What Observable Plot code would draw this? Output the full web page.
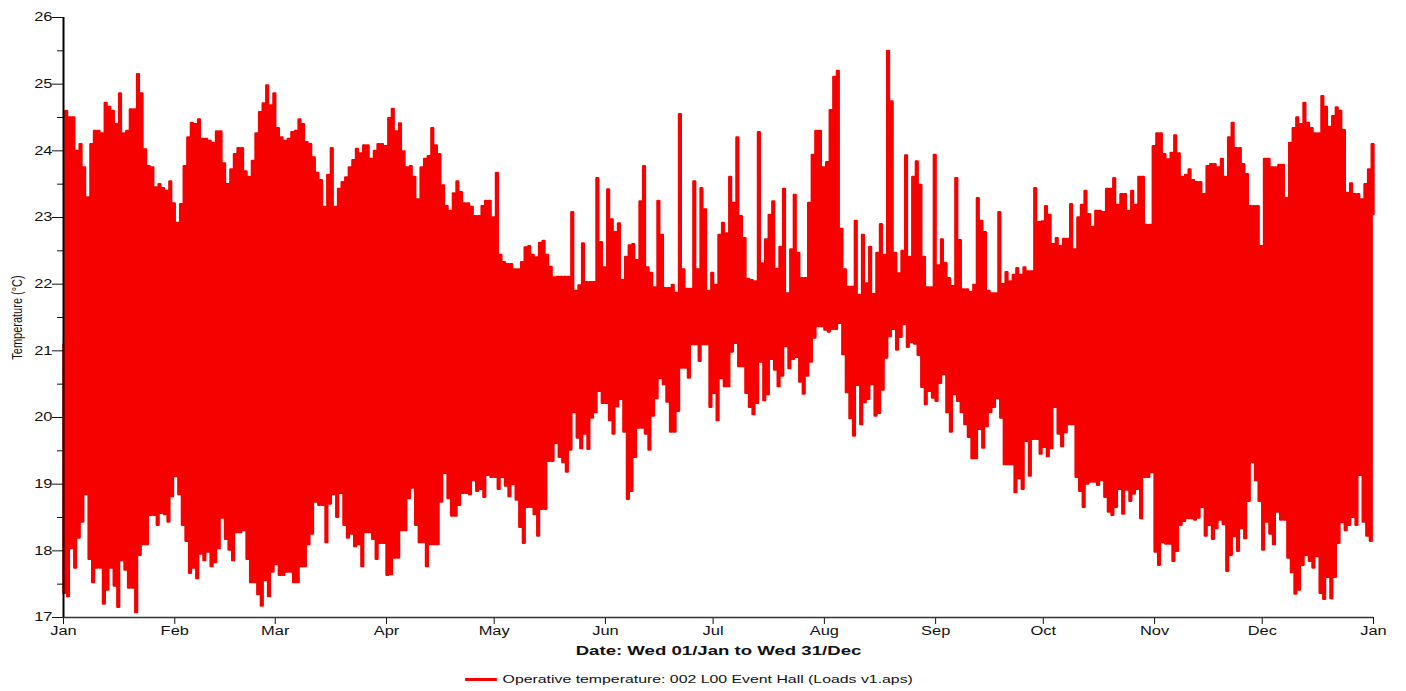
<!DOCTYPE html>
<html>
<head>
<meta charset="utf-8">
<script src="https://cdn.jsdelivr.net/npm/d3@7"></script>
<script src="https://cdn.jsdelivr.net/npm/@observablehq/plot@0.6"></script>
<style>
  html, body { margin: 0; padding: 0; background: #fff; }
  #wrap { position: relative; width: 1406px; height: 691px; font-family: 'Liberation Sans', Arial, sans-serif; }
  #legend { position: absolute; left: 689px; top: 679px; transform: translate(-50%, -50%) scaleX(1.44);
            display: flex; align-items: center; white-space: nowrap; font-size: 11px; color: #111; }
  #legend .sw { display: inline-block; width: 22px; height: 3px; background: #f70000; margin-right: 4px; }
</style>
</head>
<body>
<div id="wrap"><div id="chart"></div><div id="legend"><span class="sw"></span><span id="legtext"></span></div></div>
<script>
// ---- Data ----
const year = 2014;
const monthLabels = ["Jan","Feb","Mar","Apr","May","Jun","Jul","Aug","Sep","Oct","Nov","Dec"];
const yTicks = [17, 18, 19, 20, 21, 22, 23, 24, 25, 26];
const yMinorTicks = [17.5, 18.5, 19.5, 20.5, 21.5, 22.5, 23.5, 24.5, 25.5];
const yLabel = "Temperature (°C)";
const xTitle = "Date: Wed 01/Jan to Wed 31/Dec";
const seriesName = "Operative temperature: 002 L00 Event Hall (Loads v1.aps)";
const startTemp = 21.1;   // value at 00:00 on 01/Jan
const endTemp = 23.05;    // value at the end of 31/Dec

// daily maximum operative temperature (°C), day 0 = 01/Jan
const dailyHigh = [
  24.6, 24.5, 24.5, 24.0, 24.1, 23.75, 23.3, 24.1, 24.3, 24.3,
  24.26, 24.72, 24.66, 24.6, 24.4, 24.86, 24.26, 24.3, 24.62, 24.62,
  25.15, 24.86, 24.02, 23.77, 23.75, 23.45, 23.5, 23.44, 23.4, 23.54,
  23.21, 22.92, 23.2, 23.77, 24.2, 24.42, 24.4, 24.47, 24.18, 24.18,
  24.15, 24.12, 24.29, 24.29, 23.81, 23.5, 23.72, 23.95, 24.04, 24.04,
  23.69, 23.61, 23.85, 24.26, 24.58, 24.71, 24.98, 24.68, 24.86, 24.34,
  24.2, 24.15, 24.18, 24.28, 24.3, 24.47, 24.4, 24.13, 24.1, 23.9,
  23.67, 23.56, 23.16, 23.64, 24.04, 23.16, 23.43, 23.53, 23.6, 23.75,
  23.86, 24.03, 23.96, 24.08, 24.08, 23.88, 24.0, 24.1, 24.1, 24.07,
  24.49, 24.63, 24.29, 24.41, 23.99, 23.75, 23.77, 23.61, 23.27, 23.75,
  23.88, 23.92, 24.34, 24.08, 23.95, 23.48, 23.17, 23.1, 23.36, 23.54,
  23.38, 23.21, 23.21, 23.16, 23.02, 23.02, 23.17, 23.25, 23.25, 23.0,
  23.67, 22.44, 22.33, 22.3, 22.3, 22.22, 22.22, 22.33, 22.55, 22.57,
  22.44, 22.4, 22.62, 22.65, 22.44, 22.26, 22.1, 22.11, 22.11, 22.11,
  22.11, 23.08, 21.9, 21.98, 22.61, 22.03, 22.03, 22.03, 23.59, 22.63,
  22.25, 23.42, 22.97, 22.78, 22.91, 22.06, 22.41, 22.58, 22.6, 22.36,
  23.24, 23.77, 22.25, 22.17, 21.95, 23.25, 22.74, 21.94, 21.94, 21.99,
  21.87, 24.55, 22.22, 21.93, 21.93, 23.54, 22.22, 23.44, 23.12, 21.9,
  22.17, 21.99, 22.74, 22.92, 22.76, 23.61, 23.22, 24.2, 23.02, 22.69,
  22.08, 22.06, 22.04, 24.28, 22.31, 22.67, 23.04, 23.24, 22.23, 22.56,
  23.43, 21.86, 22.52, 23.34, 22.47, 22.09, 22.09, 23.22, 23.94, 24.3,
  24.3, 23.75, 23.83, 24.61, 25.11, 25.2, 22.83, 22.22, 21.96, 21.96,
  22.95, 21.84, 22.74, 22.01, 22.56, 21.85, 22.47, 22.9, 22.44, 25.5,
  24.74, 22.47, 22.16, 22.5, 23.93, 22.41, 23.61, 23.84, 23.49, 22.41,
  21.95, 21.95, 23.94, 22.28, 22.67, 22.32, 22.09, 21.97, 23.59, 22.66,
  21.92, 21.92, 21.88, 21.99, 23.29, 22.95, 22.78, 21.9, 21.86, 21.86,
  23.08, 22.0, 22.18, 22.04, 22.14, 22.24, 22.14, 22.25, 22.19, 22.19,
  23.44, 22.93, 22.94, 23.17, 23.04, 22.6, 22.69, 22.57, 22.68, 22.68,
  23.2, 22.52, 23.0, 23.19, 23.4, 23.05, 22.86, 23.1, 23.1, 23.08,
  23.43, 23.43, 23.59, 23.19, 23.35, 23.35, 23.1, 23.4, 23.19, 23.61,
  23.61, 22.89, 22.89, 24.07, 24.26, 24.26, 23.95, 23.87, 23.97, 24.23,
  23.96, 23.61, 23.64, 23.72, 23.56, 23.53, 23.53, 23.35, 23.77, 23.8,
  23.8, 23.75, 23.88, 23.61, 24.2, 24.42, 24.04, 24.04, 23.8, 23.65,
  23.17, 23.17, 23.17, 22.57, 23.88, 23.88, 23.75, 23.75, 23.79, 23.79,
  23.29, 24.12, 24.34, 24.5, 24.4, 24.72, 24.42, 24.34, 24.26, 24.26,
  24.82, 24.66, 24.36, 24.52, 24.65, 24.6, 24.31, 23.37, 23.51, 23.35,
  23.35, 23.27, 23.5, 23.72, 24.1
];

// daily minimum operative temperature (°C), day 0 = 01/Jan
const dailyLow = [
  17.37, 17.32, 18.04, 17.75, 18.2, 18.44, 18.85, 17.88, 17.53, 17.75,
  17.75, 17.21, 17.42, 17.75, 17.48, 17.16, 17.86, 17.72, 17.45, 17.45,
  17.08, 17.94, 18.1, 18.1, 18.54, 18.54, 18.39, 18.57, 18.55, 18.44,
  18.82, 19.12, 18.85, 18.39, 18.15, 17.67, 17.75, 17.59, 17.96, 17.86,
  17.99, 17.77, 17.83, 18.04, 18.5, 18.18, 18.02, 17.86, 18.28, 18.28,
  18.31, 17.88, 17.53, 17.53, 17.35, 17.18, 17.56, 17.32, 17.69, 17.8,
  17.64, 17.64, 17.69, 17.69, 17.53, 17.53, 17.77, 17.77, 18.1, 18.26,
  18.74, 18.69, 18.69, 18.13, 18.71, 18.85, 18.51, 18.87, 18.39, 18.2,
  18.26, 18.07, 18.1, 17.77, 18.28, 18.28, 18.18, 17.88, 18.12, 18.12,
  17.64, 17.65, 17.9, 17.9, 18.31, 18.31, 18.79, 18.95, 18.39, 18.13,
  18.13, 17.77, 18.1, 18.1, 18.1, 18.74, 19.17, 18.79, 18.53, 18.53,
  18.69, 18.87, 18.87, 18.85, 19.06, 18.9, 18.93, 18.81, 19.14, 19.11,
  19.11, 18.93, 19.11, 18.98, 18.82, 19.0, 18.77, 18.36, 18.12, 18.66,
  18.66, 18.55, 18.23, 18.63, 18.63, 19.35, 19.35, 19.62, 19.41, 19.33,
  19.19, 19.52, 20.08, 19.7, 19.54, 19.76, 19.53, 20.0, 20.08, 20.4,
  20.22, 20.22, 19.96, 19.76, 20.17, 20.28, 19.79, 18.78, 18.9, 19.41,
  19.85, 19.85, 19.76, 19.52, 20.03, 20.29, 20.59, 20.5, 20.24, 19.79,
  19.79, 20.1, 20.75, 20.75, 20.6, 21.1, 21.1, 20.85, 21.1, 21.1,
  20.16, 20.37, 19.96, 20.59, 20.47, 20.47, 20.99, 21.12, 20.77, 20.77,
  20.37, 20.16, 20.05, 20.22, 20.84, 20.26, 20.35, 20.88, 20.72, 20.47,
  20.63, 21.07, 20.74, 20.88, 20.91, 20.54, 20.36, 20.63, 20.84, 21.2,
  21.37, 21.37, 21.32, 21.29, 21.33, 21.33, 21.42, 20.95, 20.38, 19.99,
  19.73, 20.49, 19.9, 20.23, 20.28, 20.5, 20.03, 20.07, 20.42, 20.9,
  21.22, 21.33, 21.02, 21.21, 21.4, 21.06, 21.13, 21.11, 20.94, 20.46,
  20.2, 20.4, 20.3, 20.25, 20.52, 20.65, 20.08, 19.79, 20.35, 20.25,
  20.08, 19.9, 19.71, 19.39, 19.39, 19.83, 19.55, 19.87, 20.08, 20.16,
  20.29, 20.0, 19.3, 19.3, 19.3, 18.88, 19.09, 18.93, 19.65, 19.13,
  19.68, 19.68, 19.46, 19.56, 19.42, 19.54, 20.16, 19.76, 19.57, 19.78,
  19.9, 19.9, 19.11, 18.9, 18.66, 19.01, 19.04, 19.04, 18.99, 19.06,
  18.81, 18.59, 18.54, 18.66, 18.93, 18.56, 18.92, 18.75, 18.86, 18.93,
  18.49, 19.11, 19.11, 19.18, 17.99, 17.79, 18.13, 18.11, 18.11, 17.85,
  18.0, 18.39, 18.45, 18.49, 18.49, 18.47, 18.5, 18.66, 18.23, 18.39,
  18.18, 18.34, 18.47, 18.4, 17.7, 17.94, 18.22, 18.0, 18.34, 18.19,
  18.75, 19.33, 19.06, 18.75, 18.02, 18.44, 18.26, 18.1, 18.59, 18.47,
  18.47, 17.9, 17.68, 17.36, 17.42, 17.79, 17.94, 17.85, 17.75, 17.92,
  17.37, 17.28, 17.61, 17.29, 17.61, 18.12, 18.43, 18.31, 18.39, 18.51,
  18.39, 19.14, 18.44, 18.23, 18.15
];

// ---- Build the time series: each day falls to its minimum, then rises to its maximum ----
const t0 = Date.UTC(year, 0, 1);
const dayMs = 864e5;
const at = (d) => new Date(t0 + d * dayMs);
const series = [{date: at(0), temp: startTemp}];
dailyLow.forEach((lo, d) => {
  series.push({date: at(d), temp: lo});
  series.push({date: at(d + 0.5), temp: dailyHigh[d]});
});
series.push({date: at(dailyLow.length), temp: endTemp});

const xStart = at(0), xEnd = new Date(Date.UTC(year + 1, 0, 1));
const monthTicks = d3.utcMonth.range(xStart, new Date(+xEnd + 1));
const red = "#f70000";

const plot = Plot.plot({
  width: 1406,
  height: 662,
  marginTop: 17,
  marginBottom: 45,
  marginLeft: 63,
  marginRight: 33,
  style: {fontFamily: "'Liberation Sans', Arial, sans-serif", fontSize: "12px", color: "#111", background: "#fff"},
  x: {type: "utc", domain: [xStart, xEnd]},
  y: {domain: [17, 26]},
  marks: [
    Plot.line(series, {x: "date", y: "temp", stroke: red, strokeWidth: 2.4, curve: "step-after"}),
    Plot.axisY({ticks: yTicks, tickSize: 11, tickPadding: 0, tickFormat: d3.format("d"), label: null}),
    Plot.axisY({ticks: yMinorTicks, tickSize: 6, tickFormat: () => "", label: null}),
    Plot.axisX({ticks: monthTicks, tickSize: 7, tickPadding: 2, tickFormat: (d) => monthLabels[d.getUTCMonth()], label: null}),
    Plot.ruleY([17], {stroke: "#333", strokeWidth: 1.6}),
    Plot.ruleX([xStart], {stroke: "#000", strokeWidth: 2}),
    Plot.text([yLabel], {text: (d) => d, frameAnchor: "left", dx: -46, rotate: -90, textAnchor: "middle", lineAnchor: "middle", fontSize: 11}),
    Plot.text([xTitle], {text: (d) => d, frameAnchor: "bottom", dy: 34, textAnchor: "middle", lineAnchor: "middle", fontWeight: "bold", fontSize: 12})
  ]
});
document.getElementById("chart").appendChild(plot);
document.getElementById("legtext").textContent = seriesName;

// the reference renders its text widened horizontally; mimic that
plot.querySelectorAll("text").forEach((t) => {
  const tr = t.getAttribute("transform") || "";
  const s = t.textContent;
  if (!s) return;
  if (tr.includes("rotate")) {
    // rotated label: widen glyph thickness along screen x
    t.setAttribute("transform", tr + " scale(1,1.3)");
    return;
  }
  const f = s === xTitle ? 1.55 : 1.37;
  const w = t.getComputedTextLength();
  if (w > 0) {
    t.setAttribute("textLength", (w * f).toFixed(1));
    t.setAttribute("lengthAdjust", "spacingAndGlyphs");
  }
});
</script>
</body>
</html>
